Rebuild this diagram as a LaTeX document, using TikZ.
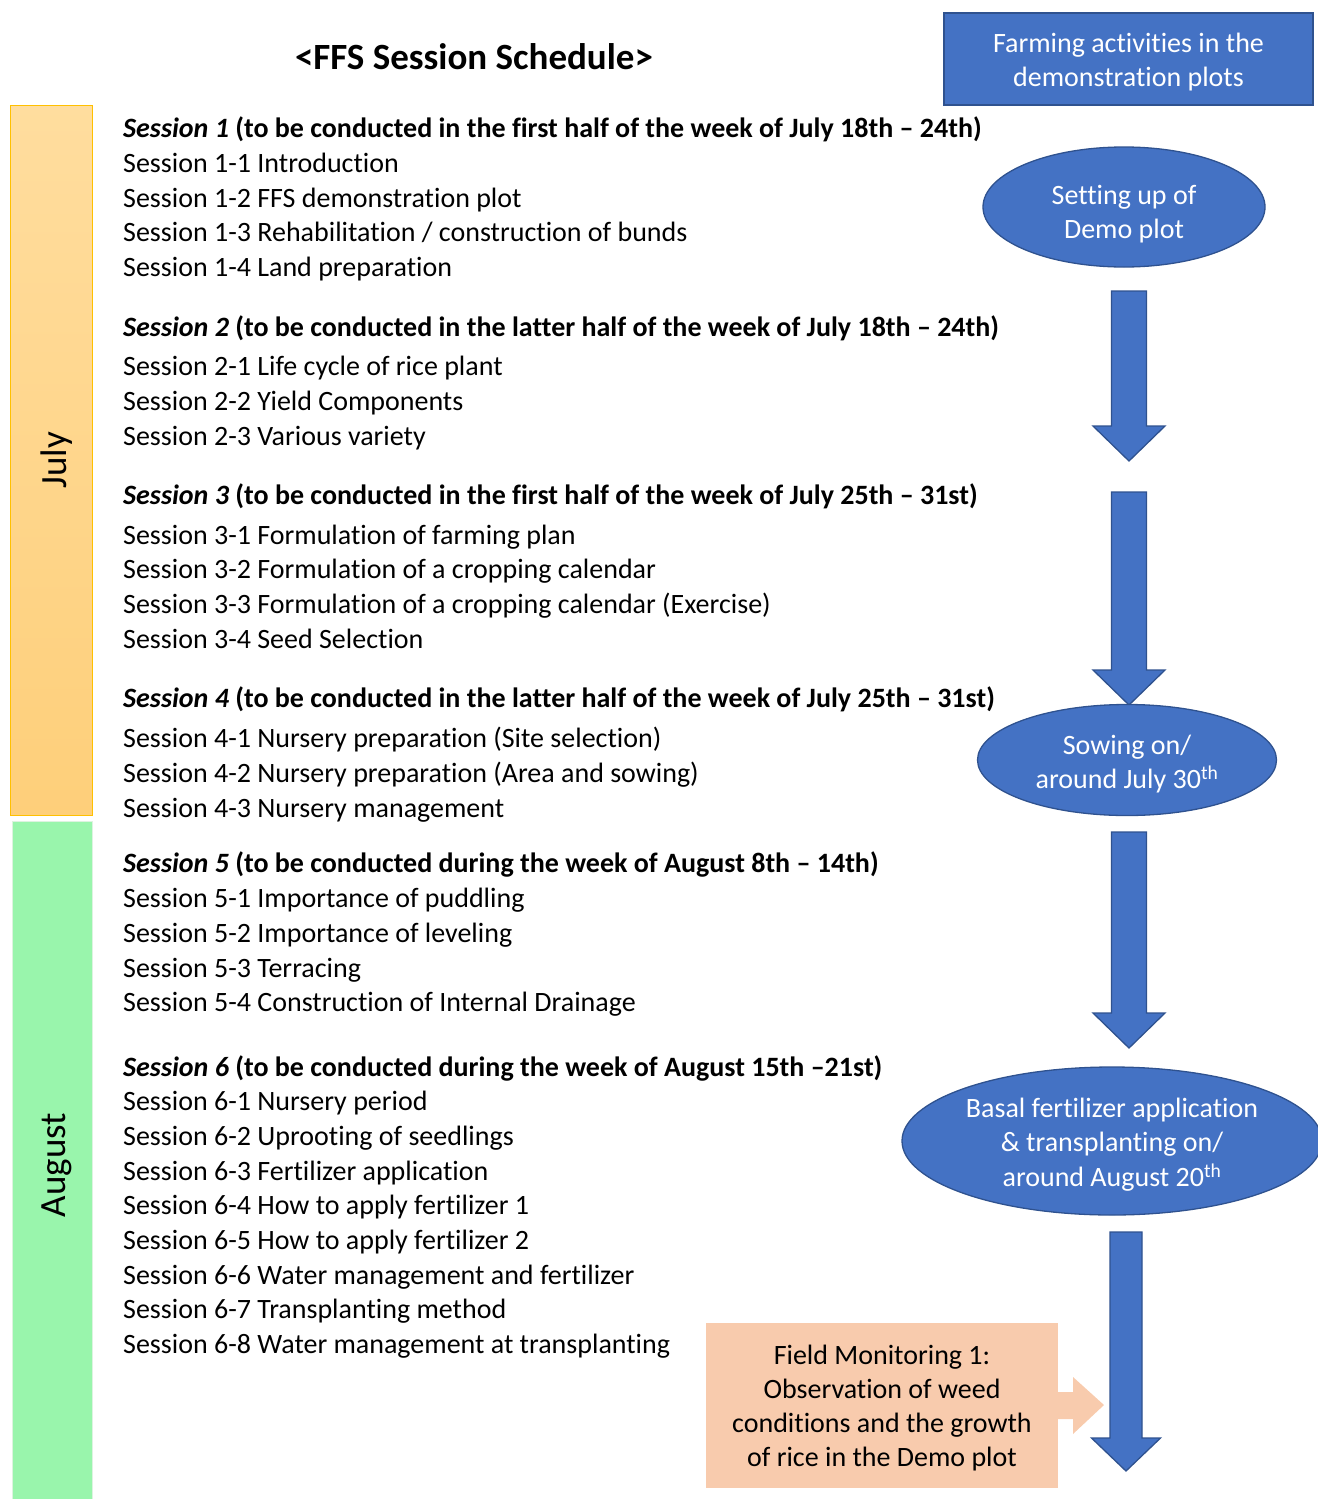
\documentclass[tikz,border=0pt]{standalone}
\usepackage{fontspec}
\setmainfont[Ligatures={NoCommon}]{Carlito}
\usetikzlibrary{shapes.geometric}
\definecolor{blueA}{HTML}{4472C4}
\definecolor{blueB}{HTML}{2F528F}
\definecolor{julyT}{HTML}{FFDD9E}
\definecolor{julyB}{HTML}{FECF7A}
\definecolor{julyE}{HTML}{FFC000}
\definecolor{augF}{HTML}{99F5AC}
\definecolor{augE}{HTML}{DDF3E0}
\definecolor{peach}{HTML}{F8CBAD}
\tikzset{
  body/.style={anchor=west,inner sep=0pt,font=\fontsize{28}{34.6}\selectfont,text height=24pt,text depth=5pt},
  head/.style={body,font=\fontsize{28}{34.6}\selectfont\bfseries},
  blueshape/.style={fill=blueA,draw=blueB,line width=1.3pt,inner sep=0pt},
  oval/.style={blueshape,ellipse},
  whitetext/.style={text=white,align=center,inner sep=0pt,font=\fontsize{28}{34.6}\selectfont},
  barlabel/.style={rotate=90,font=\fontsize{37}{40}\selectfont},
  blockarrow/.style={fill=blueA,draw=blueB,line width=1.3pt,line join=miter}
}
\newcommand{\downarrowblock}[5]{% cx, top, headstart, tip, shaft half
  \draw[blockarrow] ({#1-#5},#2) -- ({#1+#5},#2) -- ({#1+#5},#3) -- ({#1+#5+18.5},#3) -- (#1,#4) -- ({#1-#5-18.5},#3) -- ({#1-#5},#3) -- cycle;}
\begin{document}
\begin{tikzpicture}[x=1pt,y=-1pt]
\useasboundingbox (0,0) rectangle (1317,1499);
% month bars
\shade[top color=julyT,bottom color=julyB,draw=julyE,line width=1pt] (10,105) rectangle (92,815);
\node[barlabel] (july) at (57,460) {July};
\fill[augF] (12,821) rectangle (92,1499);
\draw[augE,line width=1pt] (12,1499) -- (12,821) -- (92,821) -- (92,1499);
\node[barlabel] (august) at (57,1165) {August};
% title
\node[font=\fontsize{37}{40}\selectfont\bfseries] (title) at (474,57) {<FFS Session Schedule>};
% session text
\node[head] (s1) at (123,128) {\textit{Session 1} (to be conducted in the first half of the week of July 18th – 24th)};
\node[body] (s11) at (123,163) {Session 1-1 Introduction};
\node[body] (s12) at (123,198) {Session 1-2 FFS demonstration plot};
\node[body] (s13) at (123,232) {Session 1-3 Rehabilitation / construction of bunds};
\node[body] (s14) at (123,267) {Session 1-4 Land preparation};
\node[head] (s2) at (123,327) {\textit{Session 2} (to be conducted in the latter half of the week of July 18th – 24th)};
\node[body] (s21) at (123,366) {Session 2-1 Life cycle of rice plant};
\node[body] (s22) at (123,401) {Session 2-2 Yield Components};
\node[body] (s23) at (123,436) {Session 2-3 Various variety};
\node[head] (s3) at (123,495) {\textit{Session 3} (to be conducted in the first half of the week of July 25th – 31st)};
\node[body] (s31) at (123,535) {Session 3-1 Formulation of farming plan};
\node[body] (s32) at (123,569) {Session 3-2 Formulation of a cropping calendar};
\node[body] (s33) at (123,604) {Session 3-3 Formulation of a cropping calendar (Exercise)};
\node[body] (s34) at (123,639) {Session 3-4 Seed Selection};
\node[head] (s4) at (123,698) {\textit{Session 4} (to be conducted in the latter half of the week of July 25th – 31st)};
\node[body] (s41) at (123,738) {Session 4-1 Nursery preparation (Site selection)};
\node[body] (s42) at (123,773) {Session 4-2 Nursery preparation (Area and sowing)};
\node[body] (s43) at (123,808) {Session 4-3 Nursery management};
\node[head] (s5) at (123,863) {\textit{Session 5} (to be conducted during the week of August 8th – 14th)};
\node[body] (s51) at (123,898) {Session 5-1 Importance of puddling};
\node[body] (s52) at (123,933) {Session 5-2 Importance of leveling};
\node[body] (s53) at (123,968) {Session 5-3 Terracing};
\node[body] (s54) at (123,1002) {Session 5-4 Construction of Internal Drainage};
\node[head] (s6) at (123,1067) {\textit{Session 6} (to be conducted during the week of August 15th –21st)};
\node[body] (s61) at (123,1101) {Session 6-1 Nursery period};
\node[body] (s62) at (123,1136) {Session 6-2 Uprooting of seedlings};
\node[body] (s63) at (123,1171) {Session 6-3 Fertilizer application};
\node[body] (s64) at (123,1205) {Session 6-4 How to apply fertilizer 1};
\node[body] (s65) at (123,1240) {Session 6-5 How to apply fertilizer 2};
\node[body] (s66) at (123,1275) {Session 6-6 Water management and fertilizer};
\node[body] (s67) at (123,1309) {Session 6-7 Transplanting method};
\node[body] (s68) at (123,1344) {Session 6-8 Water management at transplanting};
% right column
\node[blueshape,rectangle,minimum width=369,minimum height=92] (farm) at (1128.5,59) {};
\node[whitetext,yshift=-3pt] (farmT) at (farm.center) {Farming activities in the\\demonstration plots};
\node[oval,minimum width=282,minimum height=120] (setup) at (1124,207) {};
\node[whitetext,yshift=-7pt] (setupT) at (setup.center) {Setting up of\\Demo plot};
\downarrowblock{1129}{291}{426}{461}{17.5}
\downarrowblock{1129}{492}{670}{705}{17.5}
\node[oval,minimum width=299,minimum height=111] (sow) at (1127,760) {};
\node[whitetext,yshift=-4pt] (sowT) at (sow.center) {Sowing on/\\around July 30\textsuperscript{th}};
\downarrowblock{1129}{832}{1013}{1048}{17.5}
\node[oval,minimum width=420,minimum height=148] (basal) at (1112,1141) {};
\node[whitetext,yshift=-3.5pt] (basalT) at (basal.center) {Basal fertilizer application\\\& transplanting on/\\around August 20\textsuperscript{th}};
\downarrowblock{1126}{1232}{1438}{1471}{16}
% field monitoring
\fill[peach] (1058,1392) -- (1073,1392) -- (1073,1377) -- (1104,1405) -- (1073,1434) -- (1073,1419) -- (1058,1419) -- cycle;
\node[fill=peach,minimum width=352,minimum height=165,inner sep=0pt] (field) at (882,1405.5) {};
\node[align=center,inner sep=0pt,yshift=-2.5pt,font=\fontsize{28}{34.3}\selectfont] (fieldT) at (field.center) {Field Monitoring 1:\\Observation of weed\\conditions and the growth\\of rice in the Demo plot};
\end{tikzpicture}
\end{document}
